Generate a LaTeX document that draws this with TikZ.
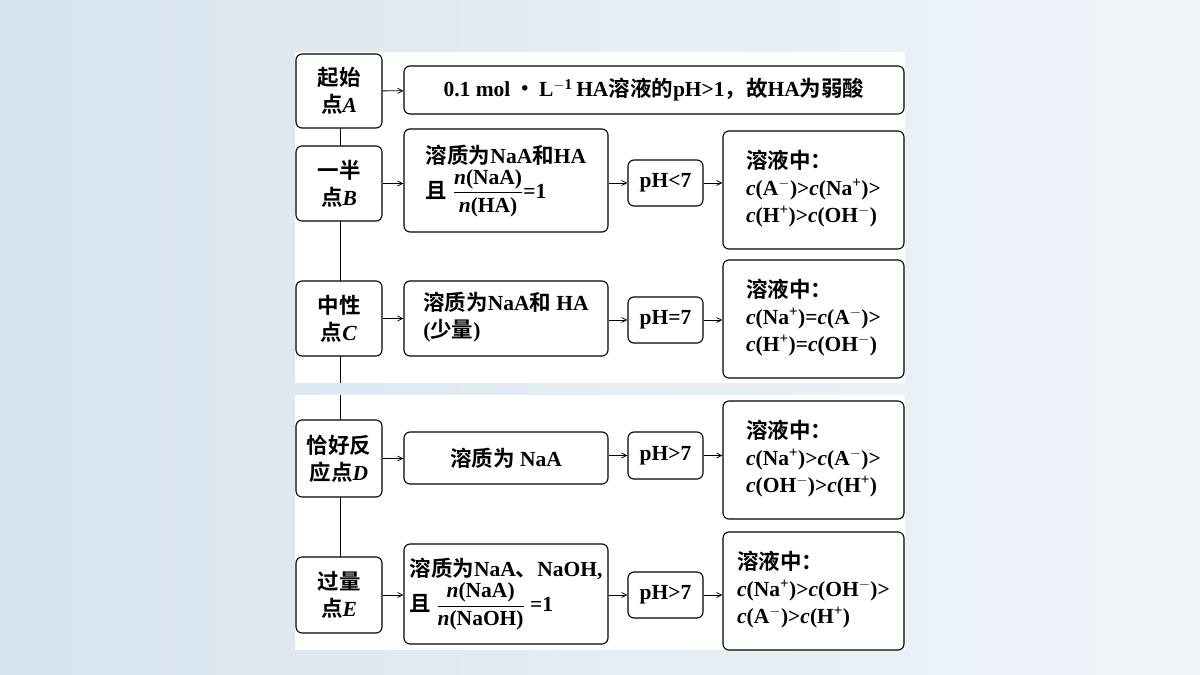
\documentclass[tikz,border=0pt]{standalone}
\usepackage{amsmath}
\usepackage{fontspec}
\setmainfont{Liberation Serif}
\newfontfamily\cjk{Noto Sans CJK SC}[BoldFont={Noto Sans CJK SC Bold}]
\usetikzlibrary{arrows.meta}
\definecolor{bgl}{RGB}{215,228,238}
\definecolor{bgr}{RGB}{240,245,249}
\newcommand{\zh}[1]{{\cjk #1}}
\newcommand{\cc}{\textit{c}}
\newcommand{\up}[1]{\textsuperscript{#1}}
\newcommand{\mn}{\up{$-$}}
\begin{document}
\begin{tikzpicture}[x=1pt,y=-1pt,
  bx/.style={draw,line width=1.1pt,rounded corners=6pt,inner sep=0pt,font=\fontsize{21.5}{27}\selectfont\bfseries},
  ar/.style={-{Straight Barb[length=5pt,width=5pt]},line width=0.8pt}]
\fill[left color=bgl,right color=bgr] (0,0) rectangle (1200,675);
\useasboundingbox (0,0) rectangle (1200,675);
\fill[white] (295,52) rectangle (905,383);
\fill[white] (295,395) rectangle (905,650);
\draw[line width=1pt] (340,90) -- (340,383);
\draw[line width=1pt] (340,395) -- (340,600);
\newcommand{\bb}[6]{\node[bx,minimum width=#4-#2,minimum height=#5-#3,fill=white,align=center] (#1) at ({(#2+#4)/2},{(#3+#5)/2}) {#6};}
\bb{la}{296}{54}{382}{128}{\zh{起始}\\\zh{点}\textit{A}}
\bb{lb}{296}{146}{382}{221}{\zh{一半}\\\zh{点}\textit{B}}
\bb{lc}{296}{281}{382}{356}{\zh{中性}\\\zh{点}\textit{C}}
\bb{ld}{296}{420}{382}{497}{\zh{恰好反}\\\zh{应点}\textit{D}}
\bb{le}{296}{557}{382}{633}{\zh{过量}\\\zh{点}\textit{E}}
\bb{ma}{404}{66}{904}{114}{0.1 mol\,\zh{·}\,L\up{$-$1}\,HA\zh{溶液的}pH>1\zh{，故}HA\zh{为弱酸}}
\bb{mb}{404}{129}{608}{232}{\begin{tabular}{@{}l@{}}\zh{溶质为}NaA\zh{和}HA\\[-2pt]\zh{且} $\dfrac{\text{\textbf{\textit{n}}(NaA)}}{\text{\textbf{\textit{n}}(HA)}}$=1\end{tabular}}
\bb{mc}{404}{281}{608}{356}{\begin{tabular}{@{}l@{}}\zh{溶质为}NaA\zh{和} HA\\(\zh{少量})\end{tabular}}
\bb{md}{404}{432}{608}{484}{\zh{溶质为} NaA}
\bb{me}{404}{544}{608}{644}{\begin{tabular}{@{}l@{}}\zh{溶质为}NaA\zh{、}NaOH,\\[-2pt]\zh{且} $\dfrac{\text{\textbf{\textit{n}}(NaA)}}{\text{\textbf{\textit{n}}(NaOH)}}$ =1\end{tabular}}
\bb{pb}{628}{160}{703}{206}{pH<7}
\bb{pc}{628}{297}{703}{343}{pH=7}
\bb{pd}{628}{432}{703}{479}{pH>7}
\bb{pe}{628}{572}{703}{618}{pH>7}
\bb{rb}{723}{131}{904}{249}{\begin{tabular}{@{}l@{}}\zh{溶液中：}\\\cc(A\mn)>\cc(Na\up{+})>\\\cc(H\up{+})>\cc(OH\mn)\end{tabular}}
\bb{rc}{723}{260}{904}{378}{\begin{tabular}{@{}l@{}}\zh{溶液中：}\\\cc(Na\up{+})=\cc(A\mn)>\\\cc(H\up{+})=\cc(OH\mn)\end{tabular}}
\bb{rd}{723}{401}{904}{519}{\begin{tabular}{@{}l@{}}\zh{溶液中：}\\\cc(Na\up{+})>\cc(A\mn)>\\\cc(OH\mn)>\cc(H\up{+})\end{tabular}}
\bb{re}{723}{532}{904}{650}{\begin{tabular}{@{}l@{}}\zh{溶液中：}\\\cc(Na\up{+})>\cc(OH\mn)>\\\cc(A\mn)>\cc(H\up{+})\end{tabular}}
\draw[ar] (la) -- (ma);
\foreach \s in {b,c,d,e}{
  \draw[ar] (l\s) -- (l\s -| m\s.west);
  \draw[ar] (m\s.east |- p\s) -- (p\s);
  \draw[ar] (p\s) -- (p\s -| r\s.west);
}
\end{tikzpicture}
\end{document}
